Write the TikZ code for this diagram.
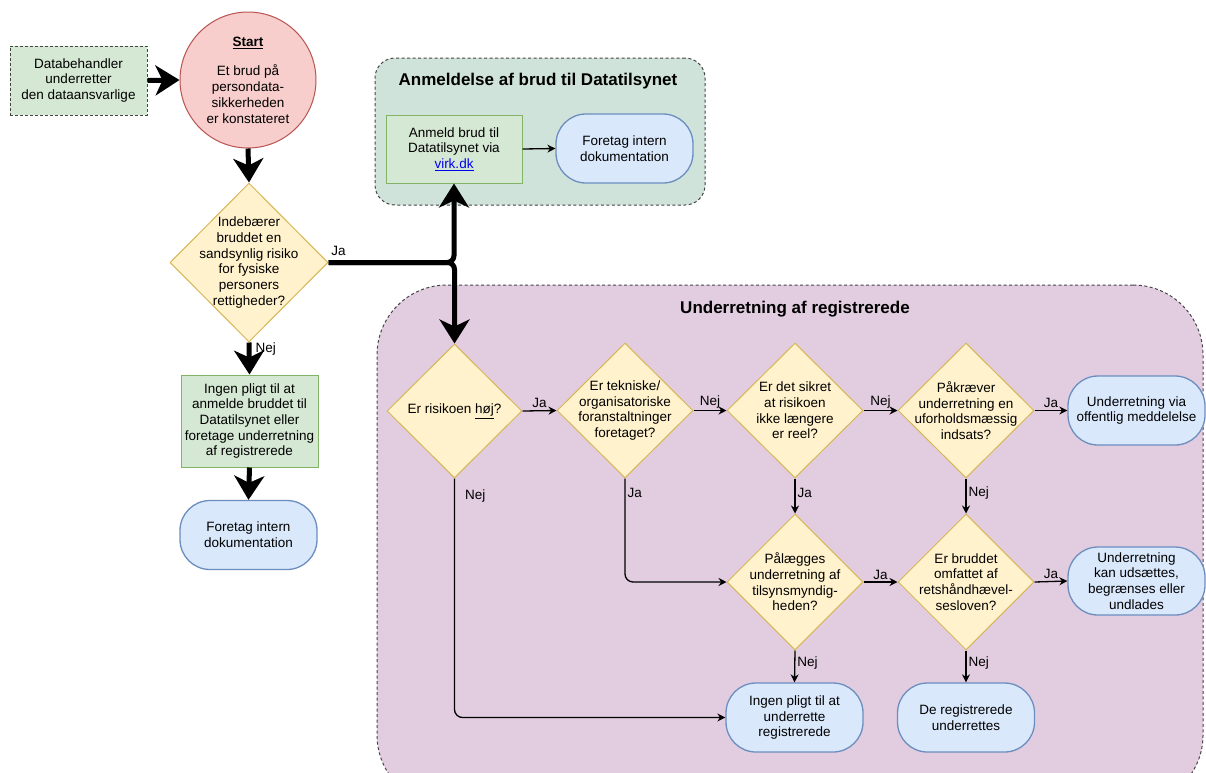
\documentclass[tikz,border=0pt]{standalone}
\usepackage{fontspec}
\setmainfont{Liberation Sans}
\usetikzlibrary{shapes.geometric,arrows.meta,calc}
\definecolor{gfill}{HTML}{D5E8D4}
\definecolor{gline}{HTML}{82B366}
\definecolor{yfill}{HTML}{FFF2CC}
\definecolor{yline}{HTML}{D6B656}
\definecolor{bfill}{HTML}{DAE8FC}
\definecolor{bline}{HTML}{6C8EBF}
\definecolor{rfill}{HTML}{F8CECC}
\definecolor{rline}{HTML}{B85450}
\definecolor{tealbg}{HTML}{CFE3DB}
\definecolor{lilacbg}{HTML}{E2CDE0}
\definecolor{dashline}{HTML}{444444}
\definecolor{linkblue}{HTML}{0000EE}
\tikzset{
  txt/.style={font=\fontsize{13.5}{15.7}\selectfont, align=center},
  procbox/.style={txt, rectangle, draw=gline, fill=gfill, line width=1pt, inner sep=2pt},
  dashbox/.style={txt, rectangle, draw=dashline, fill=gfill, line width=1pt, dash pattern=on 3pt off 2pt, inner sep=2pt},
  decbox/.style={diamond, draw=yline, fill=yfill, line width=1pt, inner sep=0pt},
  dtext/.style={txt, inner sep=0pt},
  termbox/.style={txt, rectangle, rounded corners=30pt, draw=bline, fill=bfill, line width=1.3pt, inner sep=1pt, minimum width=137pt, minimum height=69pt},
  startbox/.style={txt, circle, draw=rline, fill=rfill, line width=1pt, inner sep=0pt, minimum size=136pt},
  groupbox/.style={rectangle, draw=dashline, line width=1pt, dash pattern=on 3pt off 2.5pt},
  gtitle/.style={font=\fontsize{17}{20}\selectfont\bfseries},
  thinarrow/.style={line width=1.3pt, draw=black, -{Stealth[length=8pt,width=8pt]}},
  thickarrow/.style={line width=5pt, draw=black, -{Stealth[length=24pt,width=30pt,inset=7pt]}},
  elabel/.style={font=\fontsize{13.5}{15.7}\selectfont, inner sep=2pt},
}
\begin{document}
\begin{tikzpicture}[x=1pt,y=-1pt]
\useasboundingbox (0,0) rectangle (1206,772);
\clip (0,0) rectangle (1206,772);
\fill[white] (0,0) rectangle (1206,772);

% groups
\node[groupbox, fill=tealbg, rounded corners=20pt, minimum width=330pt, minimum height=147pt] (g1) at (540,131.5) {};
\node[gtitle] (g1t) at (538,81) {Anmeldelse af brud til Datatilsynet};
\node[groupbox, fill=lilacbg, rounded corners=70pt, minimum width=826pt, minimum height=520pt] (g2) at (790,545) {};
\node[gtitle] (g2t) at (795,309) {Underretning af registrerede};

% left column
\node[dashbox, minimum width=137pt, minimum height=69pt] (db) at (78.5,80.5) {Databehandler\\underretter\\den dataansvarlige};
\node[startbox] (start) at (248,80) {\textbf{\underline{Start}}\\[14pt]Et brud på\\persondata-\\sikkerheden\\er konstateret};
\node[decbox, minimum width=158pt, minimum height=159pt,
  label={[dtext]center:{Indebærer\\bruddet en\\sandsynlig risiko\\for fysiske\\personers\\rettigheder?}}] (d1) at (249,262.5) {};
\node[procbox, minimum width=137pt, minimum height=92pt] (p2) at (249.5,421) {Ingen pligt til at\\anmelde bruddet til\\Datatilsynet eller\\foretage underretning\\af registrerede};
\node[termbox] (t1) at (248.5,535) {Foretag intern\\dokumentation};

% top group content
\node[procbox, minimum width=136pt, minimum height=68pt] (anm) at (454,149) {Anmeld brud til\\Datatilsynet via\\{\color{linkblue}\underline{virk.dk}}};
\node[termbox] (t2) at (624.5,148.5) {Foretag intern\\dokumentation};

% bottom group content
\node[decbox, minimum width=135pt, minimum height=134pt,
  label={[dtext]center:{Er risikoen \underline{høj}?}}] (d2) at (454.5,411) {};
\node[decbox, minimum width=136pt, minimum height=135pt,
  label={[dtext]center:{Er tekniske/\\organisatoriske\\foranstaltninger\\foretaget?}}] (d3) at (625,410.5) {};
\node[decbox, minimum width=136pt, minimum height=135pt,
  label={[dtext]center:{Er det sikret\\at risikoen\\ikke længere\\er reel?}}] (d4) at (795,410.5) {};
\node[decbox, minimum width=136pt, minimum height=135pt,
  label={[dtext]center:{Påkræver\\underretning en\\uforholdsmæssig\\indsats?}}] (d5) at (966,410.5) {};
\node[termbox] (e1) at (1136.5,410.5) {Underretning via\\offentlig meddelelse};

\node[decbox, minimum width=136pt, minimum height=136pt,
  label={[dtext]center:{Pålægges\\underretning af\\tilsynsmyndig-\\heden?}}] (d6) at (795,582) {};
\node[decbox, minimum width=136pt, minimum height=136pt,
  label={[dtext]center:{Er bruddet\\omfattet af\\retshåndhævel-\\sesloven?}}] (d7) at (966,582) {};
\node[termbox, minimum height=68pt] (e2) at (1136.5,581) {Underretning\\kan udsættes,\\begrænses eller\\undlades};

\node[termbox] (e3) at (794.5,717.5) {Ingen pligt til at\\underrette\\registrerede};
\node[termbox] (e4) at (966,717.5) {De registrerede\\underrettes};

% thick connectors
\draw[thickarrow] (db.east) -- (start.west);
\draw[thickarrow] (start.south) -- (d1.north);
\draw[thickarrow] (d1.south) -- node[elabel, pos=0.2, right, xshift=2pt]{Nej} (p2.north);
\draw[thickarrow] (p2.south) -- (t1.north);
\draw[thickarrow, rounded corners=7pt] (d1.east) -| node[elabel, pos=0.04, above, yshift=2pt]{Ja} (anm.south);
\draw[thickarrow, rounded corners=7pt] (d1.east) -| (d2.north);

% thin connectors
\draw[thinarrow] (anm.east) -- (t2.west);
\draw[thinarrow] (d2.east) -- node[elabel, above]{Ja} (d3.west);
\draw[thinarrow] (d3.east) -- node[elabel, above]{Nej} (d4.west);
\draw[thinarrow] (d4.east) -- node[elabel, above]{Nej} (d5.west);
\draw[thinarrow] (d5.east) -- node[elabel, above]{Ja} (e1.west);
\draw[thinarrow] (d4.south) -- node[elabel, right, pos=0.4]{Ja} (d6.north);
\draw[thinarrow] (d5.south) -- node[elabel, right, pos=0.4]{Nej} (d7.north);
\draw[thinarrow, rounded corners=8pt] (d3.south) |- node[elabel, right, pos=0.07]{Ja} (d6.west);
\draw[thinarrow, rounded corners=8pt] (d2.south) |- node[elabel, right, pos=0.036, xshift=8pt]{Nej} (e3.west);
\draw[thinarrow] (d6.east) -- node[elabel, above]{Ja} (d7.west);
\draw[thinarrow] (d7.east) -- node[elabel, above]{Ja} (e2.west);
\draw[thinarrow] (d6.south) -- node[elabel, right, pos=0.4]{Nej} (e3.north);
\draw[thinarrow] (d7.south) -- node[elabel, right, pos=0.4]{Nej} (e4.north);
\end{tikzpicture}
\end{document}
